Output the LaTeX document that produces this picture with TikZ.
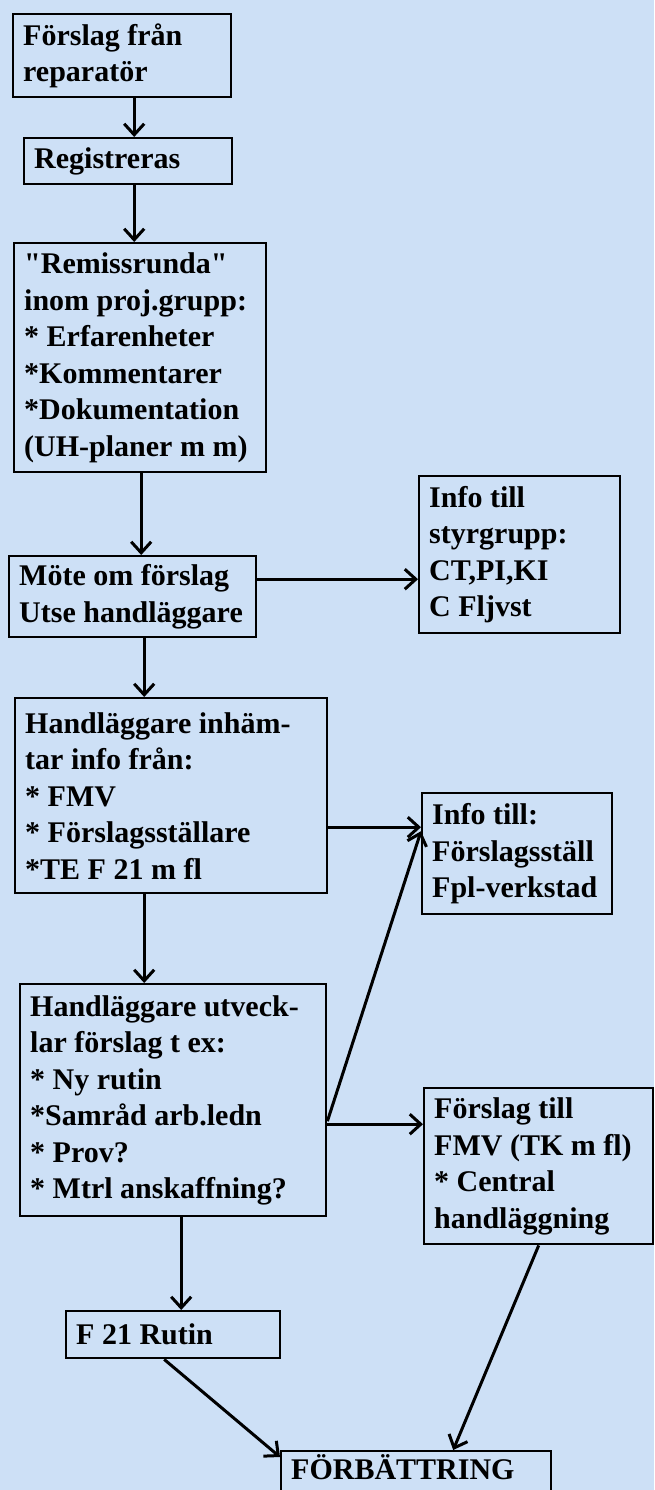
\documentclass[tikz,border=0pt]{standalone}
\usepackage{fontspec}
\setmainfont{Liberation Serif}[Ligatures=TeXOff]
\usetikzlibrary{arrows.meta}
\definecolor{bakgrund}{RGB}{205,224,246}
\tikzset{
  blok/.style={rectangle,draw=black,line width=2.4pt,fill=bakgrund,anchor=north west,
    align=left,inner xsep=10pt,inner ysep=4pt,font=\fontsize{30}{36.5}\selectfont\bfseries,
    execute at begin node={\spaceskip 0.25em\relax}},
  tok/.style={-{Straight Barb[length=11pt,width=20pt]},line width=3pt},
}
\begin{document}
\begin{tikzpicture}[x=1pt,y=-1pt]
  \fill[bakgrund] (0,0) rectangle (654,1490);
  \useasboundingbox (0,0) rectangle (654,1490);
  % hlavní tok vlevo
  \node[blok,text width=198pt,minimum height=83pt] (fran) at (12,13) {Förslag från\\reparatör};
  \node[blok,text width=188pt,minimum height=46pt] (reg) at (23,137) {Registreras};
  \node[blok,text width=232pt,minimum height=229pt] (remiss) at (13,242)
    {"Remissrunda"\\inom proj.grupp:\\{}* Erfarenheter\\{}*Kommentarer\\{}*Dokumentation\\(UH-planer m m)};
  \node[blok,text width=227pt,minimum height=81pt] (mote) at (8,555) {Möte om förslag\\Utse handläggare};
  \node[blok,text width=292pt,minimum height=195pt] (inhamt) at (14,697)
    {Handläggare inhäm-\\tar info från:\\{}* FMV\\{}* Förslagsställare\\{}*TE F 21 m fl};
  \node[blok,text width=286pt,minimum height=232pt] (utveckl) at (19,983)
    {Handläggare utveck-\\lar förslag t ex:\\{}* Ny rutin\\{}*Samråd arb.ledn\\{}* Prov?\\{}* Mtrl anskaffning?};
  \node[blok,text width=194pt,minimum height=47pt] (f21) at (65,1310) {F 21 Rutin};
  % boxy vpravo
  \node[blok,text width=181pt,minimum height=157pt] (styr) at (418,475)
    {Info till\\styrgrupp:\\CT,PI,KI\\C Fljvst};
  \node[blok,text width=170pt,minimum height=121pt] (infotill) at (421,792)
    {Info till:\\Förslagsställ\\Fpl-verkstad};
  \node[blok,text width=209pt,minimum height=156pt] (fmv) at (423,1087)
    {Förslag till\\FMV (TK m fl)\\{}* Central\\handläggning};
  % výsledek (spodní okraj mimo obrázek)
  \node[blok,text width=250pt,text height=24pt,text depth=30pt] (forb) at (280,1450) {FÖRBÄTTRING};
  % šipky
  \draw[tok] ([xshift=12pt]fran.south) -- ([xshift=6pt]reg.north);
  \draw[tok] ([xshift=6pt]reg.south) -- ([xshift=-6pt]remiss.north);
  \draw[tok] ([xshift=1pt]remiss.south) -- ([xshift=8.5pt]mote.north);
  \draw[tok] ([yshift=17.5pt]mote.east) -- ([yshift=-24.5pt]styr.west);
  \draw[tok] ([xshift=11.5pt]mote.south) -- ([xshift=-27pt]inhamt.north);
  \draw[tok] ([yshift=-31.5pt]inhamt.east) -- ([yshift=26.5pt]infotill.west);
  \draw[tok] ([xshift=-27pt]inhamt.south) -- ([xshift=-29pt]utveckl.north);
  \draw[tok] ([yshift=-21pt]utveckl.east) -- ([yshift=22.5pt]infotill.west);
  \draw[tok] ([yshift=-24pt]utveckl.east) -- ([yshift=42pt]fmv.west);
  \draw[tok] ([xshift=8pt]utveckl.south) -- ([xshift=8pt]f21.north);
  \draw[tok] ([xshift=-9pt]f21.south) -- ([yshift=-7pt]forb.north west);
  \draw[tok] (fmv.south) -- ([xshift=37pt]forb.north);
\end{tikzpicture}
\end{document}
